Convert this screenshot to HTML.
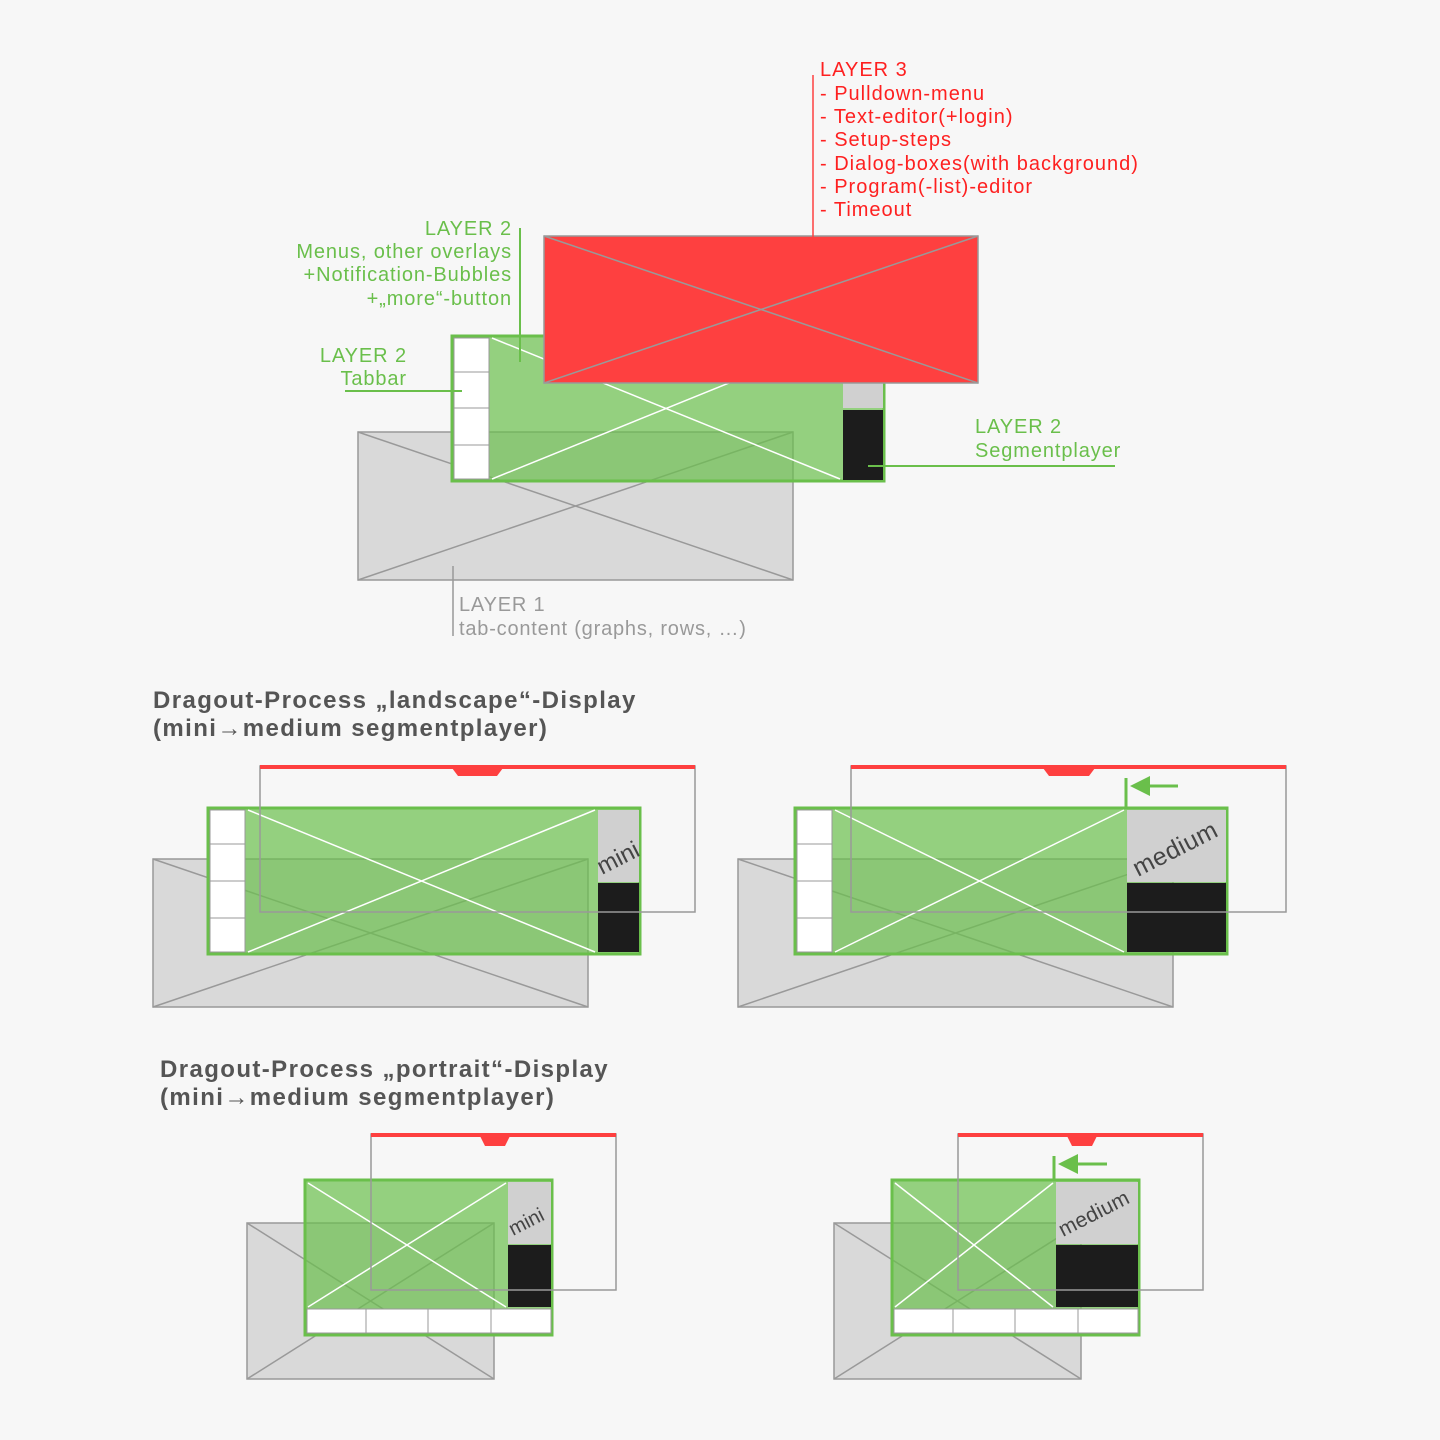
<!DOCTYPE html>
<html><head><meta charset="utf-8"><style>
body{margin:0;background:#f7f7f7}
svg{display:block}
text{font-family:"Liberation Sans",sans-serif}
</style></head><body>
<svg width="1440" height="1440" viewBox="0 0 1440 1440" xmlns="http://www.w3.org/2000/svg">
<rect width="1440" height="1440" fill="#f7f7f7"/>

<!-- ===== TOP DIAGRAM ===== -->
<g stroke="#999" stroke-width="1.5">
<rect x="358" y="432" width="435" height="148" fill="#d9d9d9"/>
<line x1="358" y1="432" x2="793" y2="580"/><line x1="358" y1="580" x2="793" y2="432"/>
</g>
<rect x="452" y="336" width="432" height="145" fill="rgba(106,191,75,0.7)" stroke="#6abf4b" stroke-width="3"/>
<g fill="#fff" stroke="#999" stroke-width="1"><rect x="454" y="338" width="35" height="34"/><rect x="454" y="372" width="35" height="36"/><rect x="454" y="408" width="35" height="37"/><rect x="454" y="445" width="35" height="34"/></g>
<rect x="843" y="338" width="40" height="70" fill="#d0d0d0"/>
<rect x="843" y="410" width="40" height="70" fill="#1c1c1c"/>
<g stroke="#fff" stroke-width="1.5"><line x1="492" y1="338" x2="840" y2="479"/><line x1="492" y1="479" x2="840" y2="338"/></g>
<rect x="544" y="236" width="434" height="147" fill="#fe4040" stroke="#999" stroke-width="1.5"/>
<g stroke="#999" stroke-width="1.5"><line x1="544" y1="236" x2="978" y2="383"/><line x1="544" y1="383" x2="978" y2="236"/></g>

<g fill="#fe2020" font-size="20" letter-spacing="1">
<text x="820" y="76">LAYER 3</text><text x="820" y="100">- Pulldown-menu</text><text x="820" y="123">- Text-editor(+login)</text><text x="820" y="146">- Setup-steps</text><text x="820" y="170">- Dialog-boxes(with background)</text><text x="820" y="193">- Program(-list)-editor</text><text x="820" y="216">- Timeout</text>
</g>
<line x1="813" y1="75" x2="813" y2="254" stroke="#fe4040" stroke-width="1.5"/>
<g fill="#6abf4b" font-size="20" text-anchor="end" letter-spacing="0.9">
<text x="512" y="235">LAYER 2</text><text x="512" y="258">Menus, other overlays</text><text x="512" y="281">+Notification-Bubbles</text><text x="512" y="305">+„more“-button</text>
<text x="407" y="362">LAYER 2</text><text x="407" y="385">Tabbar</text>
</g>
<g fill="#6abf4b" font-size="20" letter-spacing="0.9"><text x="975" y="433">LAYER 2</text><text x="975" y="457">Segmentplayer</text></g>
<g stroke="#6abf4b" stroke-width="2"><line x1="520" y1="228" x2="520" y2="362"/><line x1="345" y1="391" x2="462" y2="391"/><line x1="868" y1="466" x2="1115" y2="466"/></g>
<g fill="#999" font-size="20" letter-spacing="0.8"><text x="459" y="611">LAYER 1</text><text x="459" y="635">tab-content (graphs, rows, …)</text></g>
<line x1="453" y1="566" x2="453" y2="636" stroke="#999" stroke-width="1.5"/>

<!-- headings -->
<g fill="#555" font-size="24" font-weight="bold" letter-spacing="1.4">
<text x="153" y="708">Dragout-Process „landscape“-Display</text><text x="153" y="736">(mini→medium segmentplayer)</text>
<text x="160" y="1077">Dragout-Process „portrait“-Display</text><text x="160" y="1105">(mini→medium segmentplayer)</text>
</g>

<!-- ===== LANDSCAPE LEFT ===== -->
<g stroke="#999" stroke-width="1.5">
<rect x="153" y="859" width="435" height="148" fill="#d9d9d9"/>
<line x1="153" y1="859" x2="588" y2="1007"/><line x1="153" y1="1007" x2="588" y2="859"/>
</g>
<rect x="208" y="808" width="432" height="146" fill="rgba(106,191,75,0.7)" stroke="#6abf4b" stroke-width="3"/>
<g fill="#fff" stroke="#999" stroke-width="1"><rect x="210" y="810" width="35" height="34"/><rect x="210" y="844" width="35" height="37"/><rect x="210" y="881" width="35" height="37"/><rect x="210" y="918" width="35" height="34"/></g>
<rect x="598" y="810" width="41" height="72" fill="#d0d0d0"/>
<rect x="598" y="883" width="41" height="69" fill="#1c1c1c"/>
<g stroke="#fff" stroke-width="1.5"><line x1="248" y1="810" x2="595" y2="952"/><line x1="248" y1="952" x2="595" y2="810"/></g>
<text x="0" y="0" font-size="24" fill="#444" transform="translate(602,875) rotate(-27)">mini</text>
<rect x="260" y="766" width="435" height="146" fill="none" stroke="#999" stroke-width="1.5"/>
<rect x="260" y="765" width="435" height="4" fill="#fe4040"/>
<path d="M452,768 L503,768 L497,776 L458,776z" fill="#fe4040"/>

<!-- ===== LANDSCAPE RIGHT ===== -->
<g stroke="#999" stroke-width="1.5">
<rect x="738" y="859" width="435" height="148" fill="#d9d9d9"/>
<line x1="738" y1="859" x2="1173" y2="1007"/><line x1="738" y1="1007" x2="1173" y2="859"/>
</g>
<rect x="795" y="808" width="432" height="146" fill="rgba(106,191,75,0.7)" stroke="#6abf4b" stroke-width="3"/>
<g fill="#fff" stroke="#999" stroke-width="1"><rect x="797" y="810" width="35" height="34"/><rect x="797" y="844" width="35" height="37"/><rect x="797" y="881" width="35" height="37"/><rect x="797" y="918" width="35" height="34"/></g>
<rect x="1127" y="810" width="99" height="72" fill="#d0d0d0"/>
<rect x="1127" y="883" width="99" height="69" fill="#1c1c1c"/>
<g stroke="#fff" stroke-width="1.5"><line x1="835" y1="810" x2="1124" y2="952"/><line x1="835" y1="952" x2="1124" y2="810"/></g>
<text x="0" y="0" font-size="25" fill="#444" letter-spacing="0.5" transform="translate(1138,877) rotate(-27)">medium</text>
<rect x="851" y="766" width="435" height="146" fill="none" stroke="#999" stroke-width="1.5"/>
<rect x="851" y="765" width="435" height="4" fill="#fe4040"/>
<path d="M1043,768 L1095,768 L1089,776 L1049,776z" fill="#fe4040"/>
<line x1="1126" y1="778" x2="1126" y2="808" stroke="#6abf4b" stroke-width="3"/>
<line x1="1178" y1="786" x2="1142" y2="786" stroke="#6abf4b" stroke-width="3"/>
<path d="M1130,786 L1150,776 L1150,796z" fill="#6abf4b"/>

<!-- ===== PORTRAIT LEFT ===== -->
<g stroke="#999" stroke-width="1.5">
<rect x="247" y="1223" width="247" height="156" fill="#d9d9d9"/>
<line x1="247" y1="1223" x2="494" y2="1379"/><line x1="247" y1="1379" x2="494" y2="1223"/>
</g>
<rect x="305" y="1180" width="247" height="155" fill="rgba(106,191,75,0.7)" stroke="#6abf4b" stroke-width="3"/>
<g fill="#fff" stroke="#999" stroke-width="1"><rect x="307" y="1309" width="59" height="24"/><rect x="366" y="1309" width="62" height="24"/><rect x="428" y="1309" width="63" height="24"/><rect x="491" y="1309" width="60" height="24"/></g>
<rect x="508" y="1182" width="43" height="62" fill="#d0d0d0"/>
<rect x="508" y="1245" width="43" height="62" fill="#1c1c1c"/>
<g stroke="#fff" stroke-width="1.5"><line x1="308" y1="1183" x2="506" y2="1307"/><line x1="308" y1="1307" x2="506" y2="1183"/></g>
<text x="0" y="0" font-size="20" fill="#444" transform="translate(513,1236) rotate(-27)">mini</text>
<rect x="371" y="1134" width="245" height="156" fill="none" stroke="#999" stroke-width="1.5"/>
<rect x="371" y="1133" width="245" height="4" fill="#fe4040"/>
<path d="M480,1136 L510,1136 L505,1146 L485,1146z" fill="#fe4040"/>

<!-- ===== PORTRAIT RIGHT ===== -->
<g stroke="#999" stroke-width="1.5">
<rect x="834" y="1223" width="247" height="156" fill="#d9d9d9"/>
<line x1="834" y1="1223" x2="1081" y2="1379"/><line x1="834" y1="1379" x2="1081" y2="1223"/>
</g>
<rect x="892" y="1180" width="247" height="155" fill="rgba(106,191,75,0.7)" stroke="#6abf4b" stroke-width="3"/>
<g fill="#fff" stroke="#999" stroke-width="1"><rect x="894" y="1309" width="59" height="24"/><rect x="953" y="1309" width="62" height="24"/><rect x="1015" y="1309" width="63" height="24"/><rect x="1078" y="1309" width="60" height="24"/></g>
<rect x="1056" y="1182" width="82" height="62" fill="#d0d0d0"/>
<rect x="1056" y="1245" width="82" height="62" fill="#1c1c1c"/>
<g stroke="#fff" stroke-width="1.5"><line x1="895" y1="1183" x2="1053" y2="1307"/><line x1="895" y1="1307" x2="1053" y2="1183"/></g>
<text x="0" y="0" font-size="21" fill="#444" letter-spacing="0.3" transform="translate(1063,1237) rotate(-27)">medium</text>
<rect x="958" y="1134" width="245" height="156" fill="none" stroke="#999" stroke-width="1.5"/>
<rect x="958" y="1133" width="245" height="4" fill="#fe4040"/>
<path d="M1067,1136 L1097,1136 L1092,1146 L1072,1146z" fill="#fe4040"/>
<line x1="1054" y1="1156" x2="1054" y2="1180" stroke="#6abf4b" stroke-width="3"/>
<line x1="1107" y1="1164" x2="1072" y2="1164" stroke="#6abf4b" stroke-width="3"/>
<path d="M1058,1164 L1078,1154 L1078,1174z" fill="#6abf4b"/>
</svg>
</body></html>
